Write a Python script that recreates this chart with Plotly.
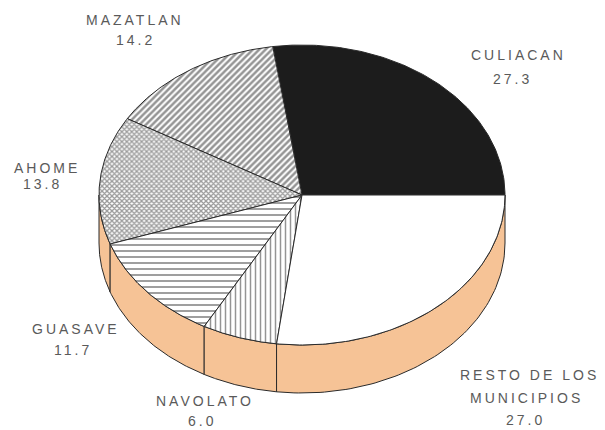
import numpy as np
import plotly.graph_objects as go

# ---- data ----
categories = ["CULIACAN", "MAZATLAN", "AHOME", "GUASAVE", "NAVOLATO", "RESTO DE LOS MUNICIPIOS"]
values = [27.3, 14.2, 13.8, 11.7, 6.0, 27.0]
name_lines = [["CULIACAN"], ["MAZATLAN"], ["AHOME"], ["GUASAVE"], ["NAVOLATO"], ["RESTO DE LOS", "MUNICIPIOS"]]
value_labels = ["27.3", "14.2", "13.8", "11.7", "6.0", "27.0"]

# ---- geometry / style (layout, not data) ----
PAGE_MARGIN = 8  # default body margin of the html page
CX, CY, RX, RY, DEPTH = 302, 195, 203, 150, 48
START_DEG = 0.0
EDGE = "#2a2a2a"
SIDE = "#F6C396"
fill_styles = [
    dict(fillcolor="#1c1c1c"),
    dict(fillcolor="white", fillpattern=dict(shape="/", size=4.5, solidity=0.55, fgcolor="#2a2a2a", bgcolor="white")),
    dict(fillcolor="white", fillpattern=dict(shape="x", size=3.5, solidity=0.62, fgcolor="#3a3a3a", bgcolor="white")),
    dict(fillcolor="white", fillpattern=dict(shape="-", size=6, solidity=0.3, fgcolor="#2a2a2a", bgcolor="white")),
    dict(fillcolor="white", fillpattern=dict(shape="|", size=5, solidity=0.3, fgcolor="#2a2a2a", bgcolor="white")),
    dict(fillcolor="white"),
]
# label anchor positions (layout): (x, y) per text line, value line last
label_pos = [
    [(518, 55), (512, 79)],
    [(135, 20), (135, 40)],
    [(47, 168), (42, 184)],
    [(76, 329), (73, 350)],
    [(205, 401), (202, 421)],
    [(529, 375), (526, 398), (525, 420)],
]


def ex(t):
    return CX + RX * np.cos(np.radians(t))


def ey(t):
    return CY - RY * np.sin(np.radians(t))


total = sum(values)
bounds = [START_DEG]
for v in values:
    bounds.append(bounds[-1] + 360.0 * v / total)

fig = go.Figure()

# side walls (front half 180..360)
for i, v in enumerate(values):
    a0, a1 = max(bounds[i], 180.0), min(bounds[i + 1], 360.0)
    if a1 <= a0:
        continue
    t = np.linspace(a0, a1, 80)
    xs = np.concatenate([ex(t), ex(t[::-1]), [ex(t[0])]])
    ys = np.concatenate([ey(t), ey(t[::-1]) + DEPTH, [ey(t[0])]])
    fig.add_trace(go.Scatter(x=xs, y=ys, mode="lines", fill="toself", fillcolor=SIDE,
                             line=dict(color=EDGE, width=1), hoverinfo="skip", showlegend=False))

# top slices
for i, v in enumerate(values):
    t = np.linspace(bounds[i], bounds[i + 1], 120)
    xs = np.concatenate([[CX], ex(t), [CX]])
    ys = np.concatenate([[CY], ey(t), [CY]])
    fig.add_trace(go.Scatter(x=xs, y=ys, mode="lines", fill="toself",
                             line=dict(color=EDGE, width=1), hoverinfo="skip",
                             showlegend=False, name=categories[i], **fill_styles[i]))

# labels
for i in range(len(values)):
    lines = name_lines[i] + [value_labels[i]]
    for txt, (lx, ly) in zip(lines, label_pos[i]):
        fig.add_annotation(x=lx, y=ly, xref="x", yref="y", showarrow=False,
                           text='<span style="letter-spacing:3px">' + txt + '</span>',
                           xanchor="center", yanchor="middle",
                           font=dict(family="Liberation Sans", size=14, color="#5a5a5a"))

W, H = 605, 430
fig.update_layout(
    width=W - PAGE_MARGIN, height=H - PAGE_MARGIN,
    margin=dict(l=0, r=0, t=0, b=0),
    paper_bgcolor="white", plot_bgcolor="white",
    xaxis=dict(range=[PAGE_MARGIN, W], visible=False, fixedrange=True),
    yaxis=dict(range=[H, PAGE_MARGIN], visible=False, fixedrange=True),
)

fig.write_html("out.html")
